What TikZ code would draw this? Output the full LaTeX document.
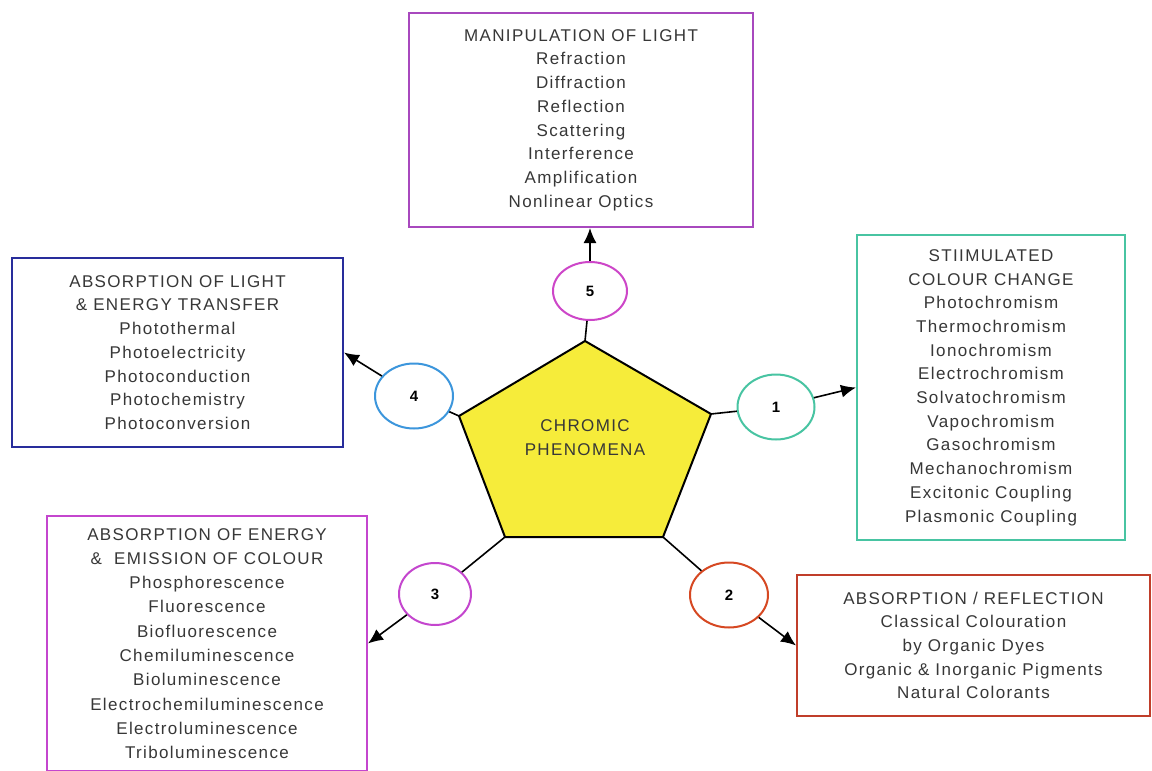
\documentclass[tikz,border=0pt]{standalone}
\usepackage{fontspec}
\setmainfont[LetterSpace=8]{Liberation Sans}
\usetikzlibrary{arrows.meta,shapes.geometric}

\definecolor{textgray}{RGB}{55,55,55}
\definecolor{lightpurple}{RGB}{168,72,190}
\definecolor{ringmagenta}{RGB}{205,70,200}
\definecolor{navyblue}{RGB}{40,45,155}
\definecolor{skyblue}{RGB}{60,150,220}
\definecolor{teal}{RGB}{72,196,162}
\definecolor{orchid}{RGB}{196,70,206}
\definecolor{brickred}{RGB}{192,62,42}
\definecolor{orangered}{RGB}{214,72,34}
\definecolor{pentayellow}{RGB}{246,236,58}

\begin{document}
\begin{tikzpicture}[x=0.5pt,y=-0.5pt,
  catbox/.style={draw, line width=1pt, rectangle, inner sep=0pt, align=center,
    text=textgray, font=\fontsize{8.5}{11.85}\selectfont},
  numring/.style={draw, ellipse, line width=1pt, inner sep=0pt, fill=white,
    font=\fontsize{7.5}{9}\selectfont\bfseries},
  link/.style={line width=0.8pt, black},
  pointer/.style={link, -{Latex[length=7.5pt,width=6.5pt]}}]

\useasboundingbox[fill=white] (0,0) rectangle (1152,771);

% central pentagon
\coordinate (pTop) at (585,341);
\coordinate (pRight) at (711,414);
\coordinate (pBR) at (663,537);
\coordinate (pBL) at (505,537);
\coordinate (pLeft) at (459,416);
\draw[line width=1pt, fill=pentayellow] (pTop) -- (pRight) -- (pBR) -- (pBL) -- (pLeft) -- cycle;
\node[align=center, text=textgray, font=\fontsize{8.5}{12}\selectfont] (core) at (585,438)
  {CHROMIC\\PHENOMENA};

% category boxes
\node[catbox, draw=lightpurple, minimum width=172pt, minimum height=107pt] (box5) at (581,120)
  {MANIPULATION OF LIGHT\\Refraction\\Diffraction\\Reflection\\Scattering\\Interference\\Amplification\\Nonlinear Optics};
\node[catbox, draw=navyblue, minimum width=165.5pt, minimum height=94.5pt] (box4) at (177.5,352.5)
  {ABSORPTION OF LIGHT\\\& ENERGY TRANSFER\\Photothermal\\Photoelectricity\\Photoconduction\\Photochemistry\\Photoconversion};
\node[catbox, draw=teal, minimum width=134pt, minimum height=152.5pt] (box1) at (991,387.5)
  {STIIMULATED\\COLOUR CHANGE\\Photochromism\\Thermochromism\\Ionochromism\\Electrochromism\\Solvatochromism\\Vapochromism\\Gasochromism\\Mechanochromism\\Excitonic Coupling\\Plasmonic Coupling};
\node[catbox, draw=orchid, minimum width=160pt, minimum height=127.5pt,
  font=\fontsize{8.5}{12.15}\selectfont] (box3) at (207,643.5)
  {ABSORPTION OF ENERGY\\\&\ \ EMISSION OF COLOUR\\Phosphorescence\\Fluorescence\\Biofluorescence\\Chemiluminescence\\Bioluminescence\\Electrochemiluminescence\\Electroluminescence\\Triboluminescence};
\node[catbox, draw=brickred, minimum width=176.5pt, minimum height=70.5pt] (box2) at (973.5,645.5)
  {ABSORPTION / REFLECTION\\Classical Colouration\\by Organic Dyes\\Organic \& Inorganic Pigments\\Natural Colorants};

% numbered rings
\node[numring, draw=ringmagenta, minimum width=37pt, minimum height=29pt] (c5) at (590,291) {5};
\node[numring, draw=teal, minimum width=38.5pt, minimum height=32.5pt] (c1) at (776,407) {1};
\node[numring, draw=skyblue, minimum width=39pt, minimum height=32.5pt] (c4) at (414,396) {4};
\node[numring, draw=orchid, minimum width=36pt, minimum height=31pt] (c3) at (435,594) {3};
\node[numring, draw=orangered, minimum width=39pt, minimum height=32.5pt] (c2) at (729,595) {2};

% links from the pentagon to the rings
\draw[link] (pTop) -- (c5);
\draw[link] (pRight) -- (c1);
\draw[link] (pLeft) -- (c4);
\draw[link] (pBL) -- (c3);
\draw[link] (pBR) -- (c2);

% arrows from the rings to the boxes
\draw[pointer] (c5) -- (c5 |- box5.south);
\draw[pointer] (c1) -- (box1.west);
\draw[pointer] (c4) -- (box4.east);
\draw[pointer] (c3) -- (box3.east);
\draw[pointer] (c2) -- (box2.west);
\end{tikzpicture}
\end{document}
